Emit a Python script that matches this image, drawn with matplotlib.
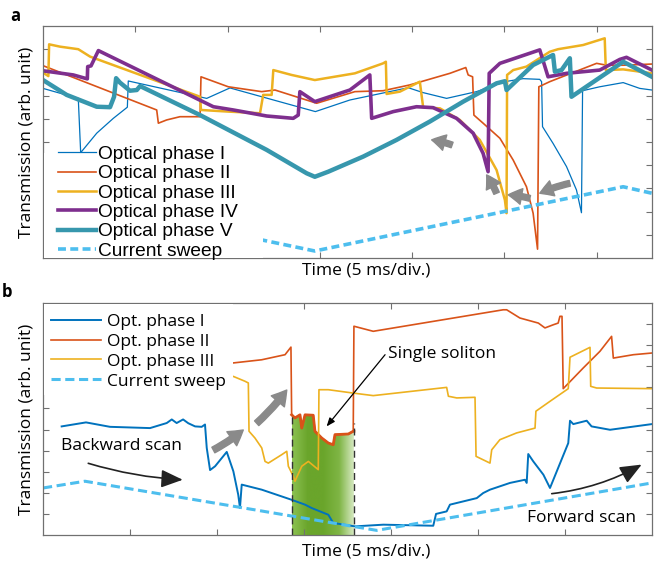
import numpy as np
import matplotlib.pyplot as plt
from matplotlib.colors import LinearSegmentedColormap
from matplotlib.patches import Rectangle

plt.rcParams['font.family'] = ['Open Sans', 'DejaVu Sans']

# colours
c1, c2, c3, c4, c5 = '#0072BD', '#D95319', '#EDB120', '#7E2F8E', '#3797AD'
c_sweep = '#4DBEEE'
c_gray = '#8a8a8a'
c_axis = '#707070'

# ---------------- panel a (time in ms, transmission arb. unit) ----------------
a_t1 = [0, 1.91, 2.04, 2.91, 3.81, 4.57, 4.62, 8.87, 10.13, 14.76, 16.63, 19.79, 20.59,
        21.87, 23.49, 25.03, 26.02, 26.92, 27.02, 27.07, 27.64, 28.37, 28.91, 29.18,
        29.24, 30.17, 31.44, 32.34, 33.0]
a_y1 = [7.31, 6.88, 4.54, 5.38, 6.02, 6.50, 7.63, 6.88, 7.33, 6.31, 6.81, 7.34, 7.13,
        6.88, 7.17, 7.60, 7.73, 7.70, 7.60, 5.66, 4.94, 3.94, 2.93, 1.95,
        7.21, 7.38, 7.56, 7.31, 7.24]

a_t2 = [0, 6.16, 6.25, 6.70, 7.42, 8.51, 8.56, 10.04, 11.85, 12.57, 14.83, 16.90, 18.43,
        19.88, 22.05, 22.91, 23.04, 23.28, 23.35, 23.85, 24.76, 25.48, 26.20, 26.56,
        26.80, 26.87, 27.46, 30.0, 30.54, 31.44, 33.0]
a_y2 = [8.29, 6.38, 5.81, 5.95, 6.09, 6.09, 7.81, 7.38, 7.17, 7.24, 6.67, 7.17, 7.21,
        7.46, 7.96, 8.21, 7.89, 7.81, 6.16, 5.81, 5.16, 4.22, 3.07, 1.93,
        0.38, 7.38, 7.60, 8.39, 8.31, 8.31, 8.36]

a_t3 = [0, 0.29, 0.33, 0.92, 1.91, 2.55, 8.51, 8.56, 10.04, 11.76, 11.93, 12.39, 12.48,
        13.47, 14.73, 16.90, 18.43, 18.58, 18.62, 19.34, 20.42, 20.60, 21.51, 22.59,
        23.67, 24.58, 25.03, 25.12, 25.15, 25.48, 26.20, 27.46, 27.91, 29.27, 30.44,
        30.50, 31.44, 33.0]
a_y3 = [7.99, 7.84, 9.21, 9.11, 9.00, 8.68, 6.95, 6.38, 6.31, 6.24, 7.03, 7.03, 8.10,
        7.89, 7.67, 7.96, 8.39, 8.46, 7.07, 7.17, 7.60, 6.50, 6.45, 5.95,
        5.09, 3.79, 2.50, 1.93, 7.89, 8.10, 8.25, 8.89, 9.00, 9.18, 9.47,
        8.10, 8.13, 7.96]

a_t4 = [0, 1.64, 2.40, 2.42, 2.60, 3.00, 9.23, 10.31, 12.12, 13.56, 13.83, 13.92, 14.73,
        16.63, 17.71, 17.81, 18.98, 20.24, 21.14, 22.41, 23.31, 23.85, 24.12, 24.18,
        24.76, 26.92, 27.37, 28.37, 30.17, 31.26, 31.62, 33.0]
a_y4 = [8.07, 7.89, 7.72, 8.25, 8.28, 8.94, 6.52, 6.38, 6.12, 6.02, 6.16, 7.17, 6.74,
        7.24, 7.89, 6.02, 6.31, 6.52, 6.48, 6.02, 5.38, 4.51, 3.72, 7.96,
        8.39, 8.97, 7.81, 7.96, 8.10, 8.56, 8.65, 8.10]

a_t5 = [0, 1.28, 2.91, 3.63, 3.85, 3.96, 4.17, 4.71, 5.08, 5.26, 8.51, 12.12, 14.29,
        14.73, 15.46, 17.35, 19.16, 20.96, 22.77, 24.58, 25.03, 25.12, 26.56, 27.64,
        27.74, 28.10, 28.55, 28.64, 31.44, 33.0]
a_y5 = [7.67, 7.03, 6.52, 6.50, 6.95, 7.75, 7.56, 7.21, 7.24, 7.41, 6.16, 4.66, 3.65,
        3.50, 3.72, 4.37, 5.09, 5.88, 6.74, 7.53, 7.62, 7.24, 8.32, 8.75,
        8.03, 8.10, 8.61, 6.95, 8.46, 7.81]

a_ts = [0, 14.73, 31.44, 33.0]
a_ys = [2.75, 0.30, 3.07, 2.79]

a_labels = ['Optical phase I', 'Optical phase II', 'Optical phase III',
            'Optical phase IV', 'Optical phase V', 'Current sweep']

# ---------------- panel b ----------------
b_t1 = [1.07, 2.47, 3.85, 6.15, 7.11, 7.40, 7.68, 8.05, 8.35, 8.74, 9.12, 9.31, 9.41,
        9.60, 9.89, 10.56, 10.94, 11.22, 11.32, 11.42, 12.57, 14.29, 15.06, 15.44,
        16.40, 16.68, 17.93, 19.56, 22.43, 22.59, 23.20, 23.39, 24.93, 25.30, 25.69,
        26.84, 27.70, 27.80, 27.89, 28.18, 28.76, 29.14, 30.19, 30.29, 30.48, 31.25,
        31.53, 32.59, 35.0]
b_y1 = [5.15, 5.34, 5.13, 5.07, 5.31, 5.48, 5.31, 5.48, 5.30, 5.15, 5.13, 5.24, 4.13,
        3.08, 3.26, 3.94, 3.02, 1.91, 1.28, 2.39, 2.15, 1.67, 1.44, 1.28,
        0.96, 0.57, 0.41, 0.49, 0.44, 1.00, 1.12, 1.44, 1.75, 1.99, 2.15,
        2.47, 2.62, 2.47, 3.84, 3.49, 2.86, 2.23, 4.36, 5.42, 5.26, 5.42,
        5.15, 4.99, 5.26]

b_t2 = [0, 10.94, 12.57, 13.91, 14.25, 14.29, 14.48, 14.77, 14.87, 15.06, 15.53, 15.63,
        16.02, 16.40, 16.68, 16.78, 17.55, 17.83, 17.87, 18.98, 26.45, 26.65, 27.41,
        28.47, 28.85, 29.33, 29.61, 29.71, 29.83, 29.90, 31.05, 32.01, 32.68, 32.78,
        33.93, 35.0]
b_y2 = [8.49, 8.16, 8.31, 8.55, 8.91, 5.70, 5.55, 5.70, 5.07, 5.70, 5.68, 4.92,
        4.60, 4.36, 4.28, 4.76, 4.79, 4.92, 9.90, 9.66, 10.68, 10.68, 10.29,
        10.05, 9.82, 9.97, 10.05, 10.37, 10.37, 6.94, 7.92, 8.71, 9.42, 8.39,
        8.55, 8.63]

b_t3 = [0, 10.94, 11.61, 11.80, 11.84, 12.18, 12.57, 12.76, 12.95, 13.72, 14.01, 14.10,
        14.39, 14.48, 14.87, 15.25, 15.82, 15.86, 16.40, 17.83, 18.98, 23.20, 23.30,
        23.78, 24.83, 24.89, 25.69, 25.79, 26.26, 27.22, 28.28, 28.33, 29.14, 30.19,
        30.29, 31.44, 31.48, 31.82, 35.0]
b_y3 = [6.97, 7.52, 7.29, 7.21, 4.92, 4.60, 4.13, 3.49, 3.41, 3.81, 3.97, 3.26,
        2.78, 2.55, 3.26, 3.49, 3.10, 6.89, 6.89, 6.73, 6.61, 7.00, 6.58,
        6.50, 6.53, 3.73, 3.41, 4.04, 4.52, 4.84, 5.07, 5.87, 6.34, 6.94,
        8.43, 8.90, 7.05, 6.97, 6.94]

b_ts = [0, 2.41, 19.18, 35.0]
b_ys = [2.23, 2.55, 0.22, 2.47]

b_labels = ['Opt. phase I', 'Opt. phase II', 'Opt. phase III', 'Current sweep']

# single soliton window (ms)
sol_start, sol_end = 14.29, 17.87


def style_axes(ax, xmax, ymax):
    ax.set_xlim(0, xmax)
    ax.set_ylim(0, ymax)
    ax.set_xticks(np.arange(5, 31, 5))
    ax.set_yticks(np.arange(1, ymax))
    ax.tick_params(direction='in', top=True, right=True, labelbottom=False,
                   labelleft=False, length=4, width=0.8, color=c_axis)
    for s in ax.spines.values():
        s.set_color(c_axis)
        s.set_linewidth(0.9)


def gray_arrow(ax, start, end, scale=12):
    ax.annotate('', xy=end, xytext=start, zorder=6,
                arrowprops=dict(arrowstyle='simple,head_length=0.8,head_width=0.95,tail_width=0.35',
                                color=c_gray, mutation_scale=scale, shrinkA=0, shrinkB=0,
                                connectionstyle='arc3,rad=0.05'))


fig = plt.figure(figsize=(6.59, 5.64), dpi=100)
ax_a = fig.add_axes([0.0653, 0.5426, 0.924, 0.4113])
ax_b = fig.add_axes([0.0653, 0.0514, 0.924, 0.4113])

# ---- panel a
ax_a.plot(a_t1, a_y1, color=c1, lw=0.9, label=a_labels[0])
ax_a.plot(a_t2, a_y2, color=c2, lw=1.2, label=a_labels[1])
ax_a.plot(a_t3, a_y3, color=c3, lw=1.8, label=a_labels[2])
ax_a.plot(a_t4, a_y4, color=c4, lw=2.6, label=a_labels[3])
ax_a.plot(a_t5, a_y5, color=c5, lw=3.2, label=a_labels[4])
ax_a.plot(a_ts, a_ys, color=c_sweep, lw=2.6, ls=(0, (2.2, 1.2)), label=a_labels[5])
style_axes(ax_a, 33, 10)
ax_a.add_patch(Rectangle((0.002, 0.002), 0.359, 0.452, transform=ax_a.transAxes,
                         facecolor='white', edgecolor='none', zorder=3))
leg_a = ax_a.legend(loc='upper left', bbox_to_anchor=(0.024, 0.485), frameon=False,
                    prop={'family': ['Liberation Sans'], 'size': 13.8},
                    handlelength=2.0, handletextpad=0.12, labelspacing=0.1,
                    borderpad=0, borderaxespad=0)
leg_a.set_zorder(4)

gray_arrow(ax_a, (22.17, 4.87), (21.06, 5.09))
gray_arrow(ax_a, (24.58, 2.79), (24.04, 3.58))
gray_arrow(ax_a, (26.38, 2.57), (25.21, 2.72))
gray_arrow(ax_a, (28.55, 3.22), (26.92, 2.79))

# ---- panel b
green = LinearSegmentedColormap.from_list(
    'sol', ['#8cc152', '#6aa52b', '#6aa52b', '#7fb545', '#dcedca'])
sel = [(t >= sol_start) and (t <= sol_end) for t in b_t2]
ts = [t for t, k in zip(b_t2, sel) if k][:-1] + [sol_end]
ys = [y for y, k in zip(b_y2, sel) if k][:-1] + [b_y2[sel.index(True) + sum(sel) - 2]]
poly = ax_b.fill_between(ts, 0, ys, color='none', lw=0)
img = ax_b.imshow(np.linspace(0, 1, 256).reshape(1, -1), cmap=green, aspect='auto',
                  extent=[sol_start, sol_end, 0, max(ys)], zorder=1)
img.set_clip_path(poly.get_paths()[0], transform=ax_b.transData)
ax_b.vlines([sol_start, sol_end], 0, [5.77, 5.3], colors='#333333', lw=1.0,
            linestyles=(0, (5, 3)), zorder=2.5)

ax_b.plot(b_t1, b_y1, color=c1, lw=1.4, label=b_labels[0])
ax_b.plot(b_t2, b_y2, color=c2, lw=1.2, label=b_labels[1])
ax_b.plot(ts, ys, color=c2, lw=2.0)
ax_b.plot(b_t3, b_y3, color=c3, lw=1.2, label=b_labels[2])
ax_b.plot(b_ts, b_ys, color=c_sweep, lw=2.2, ls=(0, (3, 1.5)), label=b_labels[3])
style_axes(ax_b, 35, 11)
ax_b.add_patch(Rectangle((0.002, 0.603), 0.31, 0.395, transform=ax_b.transAxes,
                         facecolor='white', edgecolor='none', zorder=3))
leg_b = ax_b.legend(loc='upper left', bbox_to_anchor=(0.013, 0.955), frameon=False,
                    fontsize=12.5, handlelength=2.9, handletextpad=0.3,
                    labelspacing=0.22, borderpad=0, borderaxespad=0)
leg_b.set_zorder(4)

gray_arrow(ax_b, (9.79, 4.03), (11.51, 4.98), scale=13)
gray_arrow(ax_b, (12.28, 5.30), (14.01, 6.875), scale=13)

ax_b.text(4.52, 4.21, 'Backward scan', fontsize=12.5, ha='center', va='center')
ax_b.annotate('', xy=(8.03, 2.62), xytext=(2.60, 3.40),
              arrowprops=dict(arrowstyle='-|>,head_length=0.6,head_width=0.25', color='#222222',
                              lw=1.2, mutation_scale=22, shrinkA=0, shrinkB=0,
                              connectionstyle='arc3,rad=0.06'))
ax_b.text(30.96, 0.81, 'Forward scan', fontsize=12.5, ha='center', va='center')
ax_b.annotate('', xy=(34.41, 3.34), xytext=(29.24, 1.96),
              arrowprops=dict(arrowstyle='-|>,head_length=0.6,head_width=0.25', color='#222222',
                              lw=1.2, mutation_scale=22, shrinkA=0, shrinkB=0,
                              connectionstyle='arc3,rad=0.1'))
ax_b.text(19.83, 8.58, 'Single soliton', fontsize=12.5, ha='left', va='center')
ax_b.annotate('', xy=(16.30, 5.15), xytext=(19.66, 8.55),
              arrowprops=dict(arrowstyle='-|>,head_length=0.5,head_width=0.2', color='black',
                              lw=0.9, mutation_scale=10, shrinkA=0, shrinkB=0))

# axis labels
for ax, dy in ((ax_a, -0.052), (ax_b, -0.069)):
    ax.set_xlabel('Time (5 ms/div.)', fontsize=12.5)
    ax.xaxis.set_label_coords(0.530, dy)
    ax.xaxis.label.set_va('center')
    ax.set_ylabel('Transmission (arb. unit)', fontsize=12.5)
    ax.yaxis.set_label_coords(-0.027, 0.5)
    ax.yaxis.label.set_va('center')

fig.text(0.0228, 0.9716, 'a', fontsize=12, weight='bold', ha='center', va='center')
fig.text(0.011, 0.483, 'b', fontsize=12, weight='bold', ha='center', va='center')

fig.savefig('out.png', dpi=100)
